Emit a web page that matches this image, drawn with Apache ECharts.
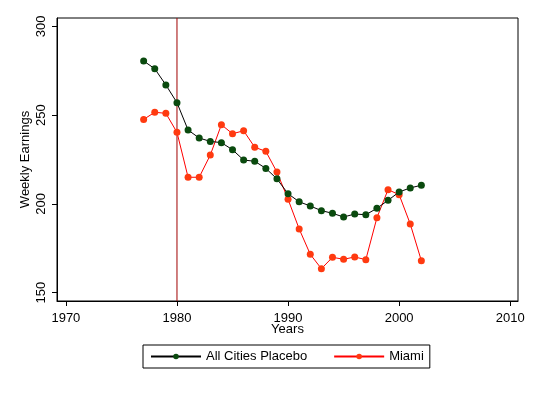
<!DOCTYPE html>
<html><head><meta charset="utf-8">
<script src="https://cdn.jsdelivr.net/npm/echarts@6/dist/echarts.min.js"></script>
<style>html,body{margin:0;padding:0;background:#fff}#c{width:537px;height:393px}</style>
</head><body><div id="c"></div>
<script>
const years = [1977,1978,1979,1980,1981,1982,1983,1984,1985,1986,1987,1988,1989,1990,1991,1992,1993,1994,1995,1996,1997,1998,1999,2000,2001,2002];
const placebo = [280.5,276.1,267.0,257.0,241.6,237.1,235.2,234.5,230.5,224.7,224.0,220.0,214.1,205.7,201.2,198.8,196.2,194.7,192.6,194.3,193.9,197.5,202.0,206.7,209.0,210.5];
const miami = [247.6,251.6,251.0,240.3,215.0,215.0,227.5,244.6,239.5,241.2,231.9,229.6,217.9,202.6,185.9,171.6,163.5,169.9,168.8,170.1,168.6,192.2,208.0,205.2,188.7,168.0];
const xTicks = [1970,1980,1990,2000,2010];
const yTicks = [150,200,250,300];
const treatYear = 1980;
const yMin = 145.3, yMax = 304.7;

const font = 'Liberation Sans, Arial, sans-serif';
const chart = echarts.init(document.getElementById('c'), null, {renderer:'canvas'});
chart.setOption({
  backgroundColor:'#fff',
  animation:false,
  grid:{left:57, top:18, width:461, height:283, show:true, borderColor:'#000', borderWidth:1, backgroundColor:'#fff'},
  xAxis:{type:'value', min:1969.2, max:2010.7,
    name:'Years', nameLocation:'middle', nameGap:22, nameMoveOverlap:false, nameTextStyle:{color:'#000', fontFamily:font, fontSize:13},
    axisLine:{show:true, lineStyle:{color:'#000'}},
    axisTick:{show:true, length:5, lineStyle:{color:'#000'}, customValues:xTicks},
    axisLabel:{color:'#000', fontFamily:font, fontSize:13, margin:11, customValues:xTicks, formatter:v=>String(v)},
    splitLine:{show:false}},
  yAxis:{type:'value', min:yMin, max:yMax,
    name:'Weekly Earnings', nameLocation:'middle', nameRotate:90, nameGap:25, nameMoveOverlap:false, nameTextStyle:{color:'#000', fontFamily:font, fontSize:13},
    axisLine:{show:true, lineStyle:{color:'#000'}},
    axisTick:{show:true, length:5, lineStyle:{color:'#000'}, customValues:yTicks},
    axisLabel:{color:'#000', fontFamily:font, fontSize:13, margin:9, rotate:90, customValues:yTicks, formatter:v=>String(v)},
    splitLine:{show:false}},
  legend:{top:345, left:143, borderColor:'#000', borderWidth:1, padding:[5,6,5,7], itemGap:26, itemWidth:50, itemHeight:7,
    textStyle:{color:'#000', fontFamily:font, fontSize:13},
    data:['All Cities Placebo','Miami']},
  series:[
    {name:'treat', type:'line', data:[[treatYear,yMin],[treatYear,yMax]], silent:true, symbol:'none',
     lineStyle:{color:'#a00000', width:1}, itemStyle:{color:'#a00000'}, z:1},
    {name:'All Cities Placebo', type:'line', data:years.map((y,i)=>[y,placebo[i]]),
     symbol:'circle', symbolSize:7, lineStyle:{color:'#000', width:1}, itemStyle:{color:'#0a4a0e'}, z:3},
    {name:'Miami', type:'line', data:years.map((y,i)=>[y,miami[i]]),
     symbol:'circle', symbolSize:7, lineStyle:{color:'#ff0000', width:1}, itemStyle:{color:'#ff3a10'}, z:2}
  ]
});
</script></body></html>
